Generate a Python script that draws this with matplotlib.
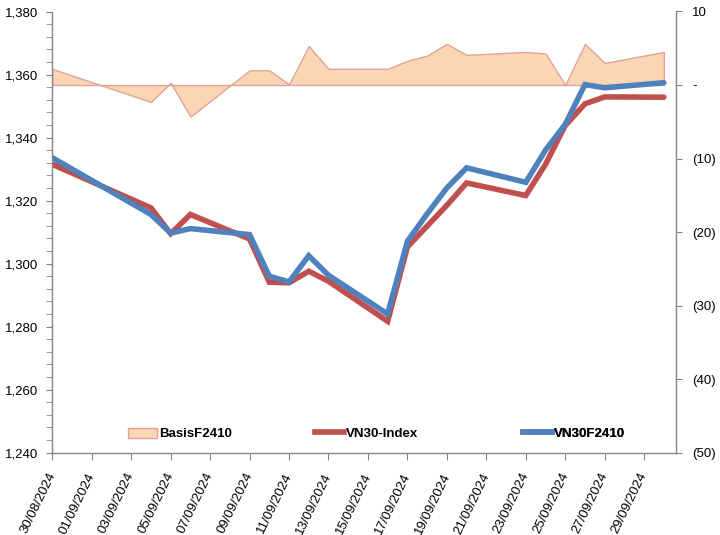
import datetime as dt

import matplotlib
matplotlib.use("Agg")
import matplotlib.pyplot as plt
import matplotlib.dates as mdates
import matplotlib.ticker as mticker
import matplotlib.patches as mpatches
from matplotlib.lines import Line2D


DATES = [
    "30/08/2024", "04/09/2024", "05/09/2024", "06/09/2024", "09/09/2024",
    "10/09/2024", "11/09/2024", "12/09/2024", "13/09/2024", "16/09/2024",
    "17/09/2024", "18/09/2024", "19/09/2024", "20/09/2024", "23/09/2024",
    "24/09/2024", "25/09/2024", "26/09/2024", "27/09/2024", "30/09/2024",
]
VN30_INDEX = [
    1331.5, 1317.7, 1309.5, 1315.6, 1307.8, 1294.1, 1293.9, 1297.6, 1294.4, 1281.7,
    1305.3, 1311.9, 1318.5, 1325.6, 1321.6, 1331.5, 1343.8, 1350.7, 1352.9, 1352.8,
]
VN30F2410 = [
    1333.6, 1315.6, 1309.7, 1311.1, 1309.2, 1296.0, 1294.2, 1302.5, 1296.3, 1284.0,
    1307.1, 1315.8, 1324.0, 1330.4, 1325.8, 1336.0, 1344.2, 1356.8, 1355.8, 1357.4,
]
BASIS = [
    2.2, -2.3, 0.3, -4.3, 2.0, 2.0, 0.1, 5.3, 2.2, 2.2,
    3.3, 4.0, 5.6, 4.1, 4.5, 4.3, 0.0, 5.6, 3.0, 4.5,
]
LEGEND_LABELS = ["BasisF2410", "VN30-Index", "VN30F2410"]

RED = "#C0504D"
BLUE = "#4F81BD"
AREA_FILL = "#FCD5B5"
AREA_EDGE = "#E0A496"
AXIS_GRAY = "#868686"

plt.rcParams.update({
    "font.family": ["Liberation Sans", "DejaVu Sans"],
    "font.size": 9.5,
})


def right_fmt(value, _pos):
    v = int(round(value))
    if v == 0:
        return "-"
    if v < 0:
        return f"({-v})"
    return f"{v}"


x = [dt.datetime.strptime(d, "%d/%m/%Y") for d in DATES]
start = x[0]

AX_L, AX_R, AX_T, AX_B = 52.3, 675.7, 11.5, 452.7
fig = plt.figure(figsize=(7.2, 5.35), dpi=100)
ax = fig.add_axes([AX_L / 720, 1 - AX_B / 535, (AX_R - AX_L) / 720, (AX_B - AX_T) / 535])
ax2 = ax.twinx()
ax.set_zorder(ax2.get_zorder() + 1)
ax.patch.set_visible(False)

# basis area on the right axis
ax2.fill_between(x, 0, BASIS, facecolor=AREA_FILL, edgecolor=AREA_EDGE, linewidth=1.0)
ax2.set_ylim(-50, 10)
ax2.yaxis.set_major_locator(mticker.MultipleLocator(10))
ax2.yaxis.set_major_formatter(mticker.FuncFormatter(right_fmt))

ax.plot(x, VN30_INDEX, color=RED, linewidth=4.0, solid_capstyle="round", solid_joinstyle="miter")
ax.plot(x, VN30F2410, color=BLUE, linewidth=4.0, solid_capstyle="round", solid_joinstyle="miter")
ax.set_ylim(1240, 1380)
ax.yaxis.set_major_locator(mticker.MultipleLocator(20))
ax.yaxis.set_minor_locator(mticker.MultipleLocator(4))
ax.yaxis.set_major_formatter(mticker.FuncFormatter(lambda v, _p: f"{v:,.0f}"))

ax.set_xlim(start, start + dt.timedelta(days=31.6))
xticks = [start + dt.timedelta(days=2 * i) for i in range(16)]
ax.set_xticks(xticks)
ax.xaxis.set_major_formatter(mdates.DateFormatter("%d/%m/%Y"))
for lbl in ax.get_xticklabels():
    lbl.set_rotation(64)
    lbl.set_ha("right")
    lbl.set_va("center")
    lbl.set_rotation_mode("anchor")

for a in (ax, ax2):
    a.spines["top"].set_visible(False)
    for side in ("left", "right", "bottom"):
        a.spines[side].set_color(AXIS_GRAY)
        a.spines[side].set_linewidth(1.0)
ax.spines["right"].set_visible(False)
ax2.spines["left"].set_visible(False)
ax2.spines["bottom"].set_visible(False)

ax.tick_params(axis="y", which="both", direction="out", length=4, color=AXIS_GRAY, pad=6)
ax.tick_params(axis="x", direction="out", length=5, color=AXIS_GRAY, pad=10)
ax2.tick_params(axis="y", direction="out", length=4, color=AXIS_GRAY, pad=8)

# legend entries sit at fixed spots along the bottom of the plot, like the original
handles = [
    mpatches.Patch(facecolor=AREA_FILL, edgecolor=AREA_EDGE),
    Line2D([0], [0], color=RED, linewidth=4.0),
    Line2D([0], [0], color=BLUE, linewidth=4.0),
]
legend_x = [128, 315, 523]
for handle, label, lx in zip(handles, LEGEND_LABELS, legend_x):
    leg = ax.legend(
        handles=[handle],
        labels=[label],
        loc="center left",
        bbox_to_anchor=((lx - AX_L) / (AX_R - AX_L), (AX_B - 434) / (AX_B - AX_T)),
        frameon=False,
        handlelength=2.2,
        handleheight=0.8,
        handletextpad=0.15,
        borderaxespad=0,
        borderpad=0,
        prop={"weight": "bold", "size": 9.5},
    )
    ax.add_artist(leg)

fig.savefig("out.png", dpi=100)
